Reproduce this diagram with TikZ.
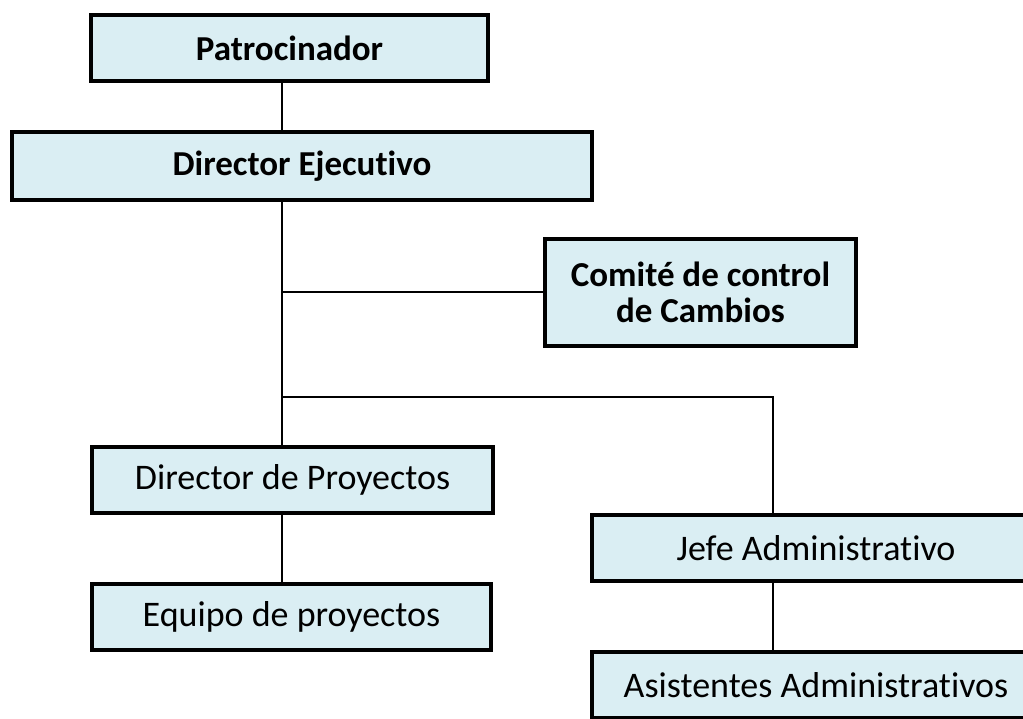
\documentclass[tikz,border=0pt]{standalone}
\usepackage{fontspec}
\setmainfont{Carlito}[Ligatures={NoCommon}]
\definecolor{boxfill}{RGB}{218,238,243}
\tikzset{
  orgbox/.style={draw=black, line width=4.5pt, fill=boxfill, inner sep=0pt,
    minimum height=66pt, align=center, anchor=center},
  boldtext/.style={font=\fontsize{35}{36}\selectfont\bfseries},
  normtext/.style={font=\fontsize{36}{37}\selectfont},
  conn/.style={draw=black, line width=2pt}
}
\begin{document}
\begin{tikzpicture}[x=1pt,y=-1pt]
\clip (0,0) rectangle (1023,719);
\fill[white] (0,0) rectangle (1023,719);
\node[orgbox, boldtext, minimum width=397pt] (pat) at (289.5,48) {Patrocinador};
\node[orgbox, boldtext, minimum width=580pt, minimum height=68pt] (dej) at (302,166) {Director Ejecutivo};
\node[orgbox, boldtext, minimum width=311pt, minimum height=107pt] (com) at (700.5,292.5) {Comité de control\\de Cambios};
\node[orgbox, normtext, minimum width=401pt] (dpr) at (292.5,480) {Director de Proyectos};
\node[orgbox, normtext, minimum width=399pt] (equ) at (291.5,617) {Equipo de proyectos};
\node[orgbox, normtext, minimum width=448pt] (jef) at (816,548) {Jefe Administrativo};
\node[orgbox, normtext, minimum width=448pt] (asi) at (816,685) {Asistentes Administrativos};
\coordinate (spine) at (282,0);
\coordinate (jbr) at (773,397);
\draw[conn] (pat.south -| spine) -- (dej.north -| spine);
\draw[conn] (dej.south -| spine) -- (dpr.north -| spine);
\draw[conn] (spine |- com.west) -- (com.west);
\draw[conn] (spine |- jbr) -- (jbr) -- (jbr |- jef.north);
\draw[conn] (dpr.south -| spine) -- (equ.north -| spine);
\draw[conn] (jef.south -| jbr) -- (asi.north -| jbr);
\end{tikzpicture}
\end{document}
